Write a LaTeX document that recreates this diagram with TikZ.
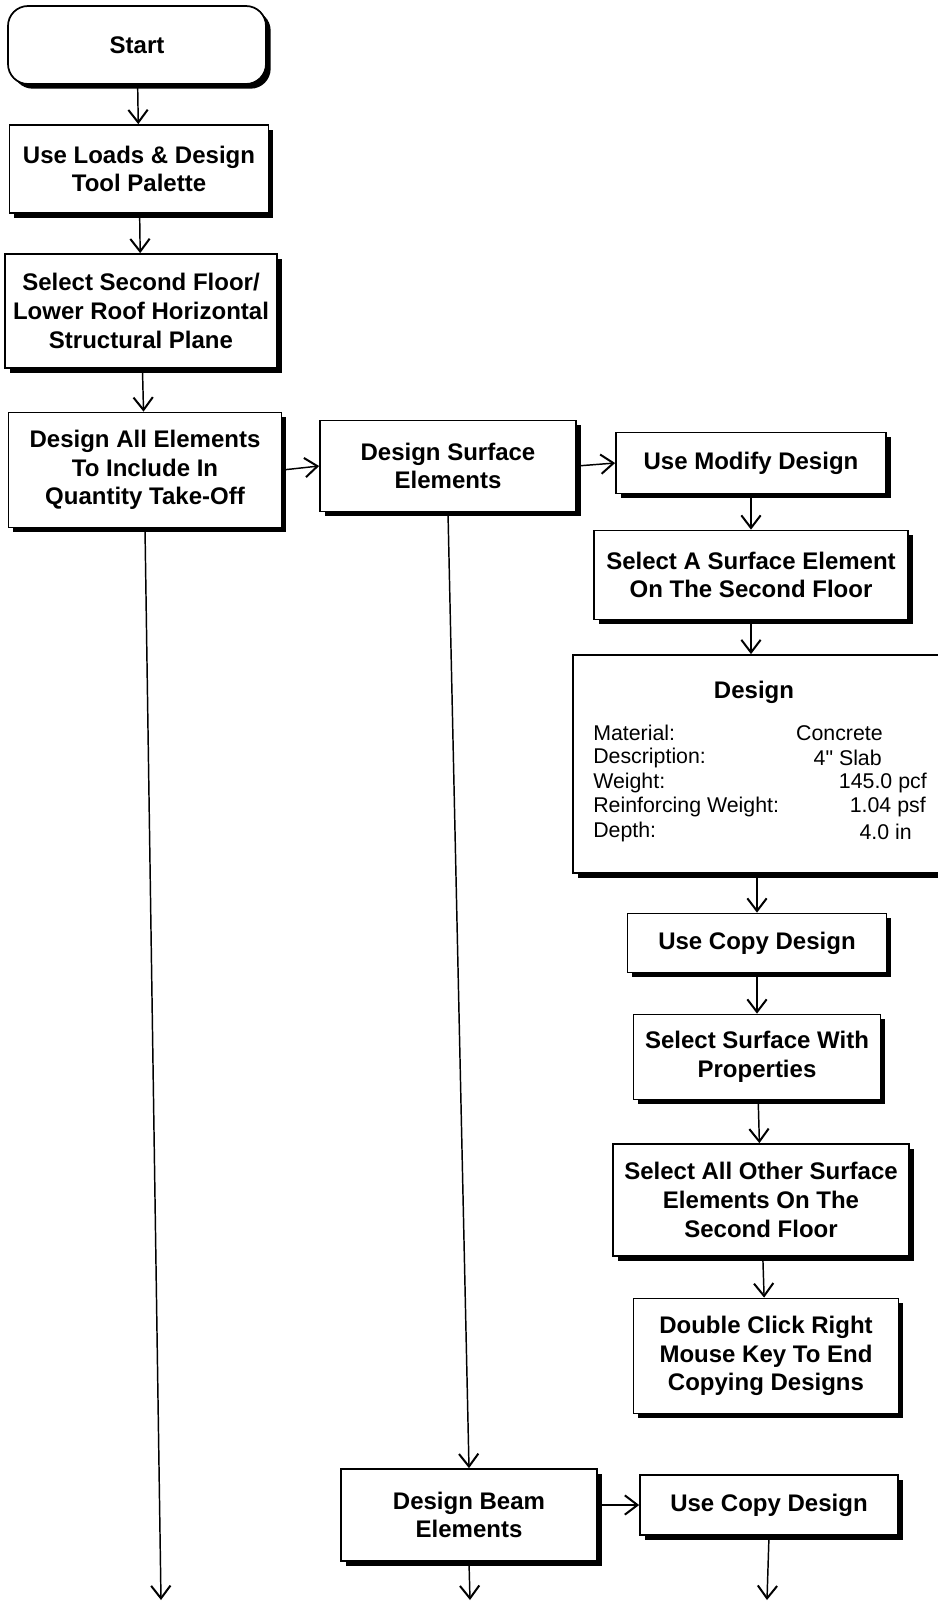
\documentclass[tikz,border=0pt]{standalone}
\usepackage{fontspec}
\setmainfont{Liberation Sans}
\newfontfamily\fieldfont{Liberation Sans}[Ligatures=TeXOff]
\usetikzlibrary{arrows.meta,shadows}
\begin{document}
\begin{tikzpicture}[x=0.75pt,y=-0.75pt,
  box/.style={draw, line width=1.3pt, fill=white, align=center, inner sep=0pt,
    font=\bfseries\fontsize{18}{21.5}\selectfont,
    drop shadow={fill=black, opacity=1, shadow xshift=3.5pt, shadow yshift=-3.5pt}},
  startbox/.style={box, rounded corners=15pt},
  arr/.style={line width=1.1pt, -{Straight Barb[length=9.5pt,width=14.5pt,line width=1.5pt]}},
  field/.style={inner sep=0pt, font=\fieldfont\fontsize{16}{18}\selectfont},
  title/.style={inner sep=0pt, font=\bfseries\fontsize{18}{21.5}\selectfont}
]
\useasboundingbox (0,0) rectangle (938,1604);
\clip (0,0) rectangle (938,1604);

% left column
\node[startbox, minimum width=193.5pt, minimum height=58.5pt] (start) at (137,45) {Start};
\node[box, minimum width=194.25pt, minimum height=66pt] (palette) at (139,169)
  {Use Loads \& Design\\Tool Palette};
\node[box, minimum width=204pt, minimum height=85.5pt] (plane) at (141,311)
  {Select Second Floor/\\Lower Roof Horizontal\\Structural Plane};
\node[box, minimum width=204.75pt, minimum height=86.25pt] (all) at (145,470)
  {Design All Elements\\To Include In\\Quantity Take-Off};

% middle column
\node[box, minimum width=192pt, minimum height=68.25pt] (surf) at (448,466)
  {Design Surface\\Elements};
\node[box, minimum width=192pt, minimum height=69pt] (beam) at (469,1515)
  {Design Beam\\Elements};

% right column
\node[box, minimum width=202.5pt, minimum height=45.75pt] (modify) at (751,463)
  {Use Modify Design};
\node[box, minimum width=235.5pt, minimum height=66.75pt] (selone) at (751,575)
  {Select A Surface Element\\On The Second Floor};
\node[box, minimum width=281.25pt, minimum height=163.5pt] (design) at (760.5,764) {};
\node[box, minimum width=194.25pt, minimum height=44.25pt] (copya) at (757,943)
  {Use Copy Design};
\node[box, minimum width=185.25pt, minimum height=63.75pt] (props) at (757,1057)
  {Select Surface With\\Properties};
\node[box, minimum width=222pt, minimum height=84pt] (others) at (761,1200)
  {Select All Other Surface\\Elements On The\\Second Floor};
\node[box, minimum width=198.75pt, minimum height=86.25pt] (dblclick) at (766,1356)
  {Double Click Right\\Mouse Key To End\\Copying Designs};
\node[box, minimum width=193.5pt, minimum height=45pt] (copyb) at (769,1505)
  {Use Copy Design};

% contents of the design panel
\node[title] (dtitle) at (754,692) {Design};
\node[field, anchor=west] (f1) at (593,733) {Material:};
\node[field, anchor=west] (f2) at (593,758) {Description:};
\node[field, anchor=west] (f3) at (593,783) {Weight:};
\node[field, anchor=west] (f4) at (593,807) {Reinforcing Weight:};
\node[field, anchor=west] (f5) at (593,832) {Depth:};
\node[field, anchor=east] (v1) at (883,733) {Concrete};
\node[field, anchor=east] (v2) at (882,758) {4" Slab};
\node[field, anchor=east] (v3) at (927,783) {145.0 pcf};
\node[field, anchor=east] (v4) at (926,807) {1.04 psf};
\node[field, anchor=east] (v5) at (912,832) {4.0 in};

% free ends of the outgoing connectors
\coordinate (endall) at (161,1600);
\coordinate (endbeam) at (470,1600);
\coordinate (endcopy) at (767,1600);

% connectors
\draw[arr] (start) -- (palette);
\draw[arr] (palette) -- (plane);
\draw[arr] (plane) -- (all);
\draw[arr] (all.east) -- (surf.west);
\draw[arr] (surf.east) -- (modify.west);
\draw[arr] (modify) -- (selone);
\draw[arr] (selone.south) -- (selone.south |- design.north);
\draw[arr] (design.south -| copya.north) -- (copya.north);
\draw[arr] (copya) -- (props);
\draw[arr] (props) -- (others);
\draw[arr] (others) -- (dblclick);
\draw[arr] (surf.south) -- (beam.north);
\draw[arr] (beam.east |- copyb.west) -- (copyb.west);
\draw[arr] (all.south) -- (endall);
\draw[arr] (beam.south) -- (endbeam);
\draw[arr] (copyb.south) -- (endcopy);
\end{tikzpicture}
\end{document}
